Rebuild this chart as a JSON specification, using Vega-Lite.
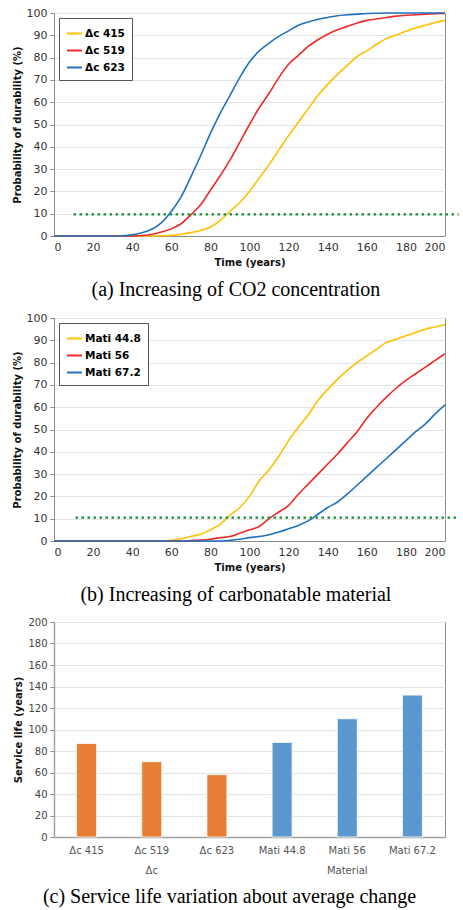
{
  "$schema": "https://vega.github.io/schema/vega-lite/v6.json",
  "background": "white",
  "padding": {"top": 6, "left": 11, "right": 4, "bottom": 4},
  "spacing": 10,
  "resolve": {"scale": {"color": "independent"}, "legend": {"color": "independent"}},
  "config": {
    "font": "DejaVu Sans",
    "view": {"stroke": "#8c8c8c", "strokeWidth": 1},
    "axis": {
      "labelFont": "DejaVu Sans", "labelFontSize": 11, "labelColor": "#333333", "labelOverlap": false,
      "titleFont": "DejaVu Sans", "titleFontWeight": "bold", "titleFontSize": 10, "titleColor": "#111111",
      "domainColor": "#8c8c8c", "tickColor": "#8c8c8c", "gridColor": "#e4e4e4", "tickSize": 4, "labelPadding": 3
    },
    "legend": {
      "orient": "top-left", "offset": 5, "padding": 7, "strokeColor": "#555555", "fillColor": "white",
      "symbolType": "stroke", "symbolSize": 225, "symbolStrokeWidth": 2, "labelFont": "DejaVu Sans",
      "labelFontWeight": "bold", "labelFontSize": 10.5, "labelColor": "#000000", "rowPadding": 3, "labelOffset": 2
    },
    "title": {"font": "Liberation Serif", "fontSize": 20, "fontWeight": "normal", "orient": "bottom", "anchor": "middle", "frame": "bounds", "color": "#000000", "offset": 13}
  },
  "datasets": {
    "curvesA": [
      {"series": "Δc 415", "t": 0, "p": 0}, {"series": "Δc 415", "t": 50, "p": 0}, {"series": "Δc 415", "t": 55, "p": 0.1}, {"series": "Δc 415", "t": 60, "p": 0.3}, {"series": "Δc 415", "t": 65, "p": 0.8}, {"series": "Δc 415", "t": 70, "p": 1.5}, {"series": "Δc 415", "t": 75, "p": 2.5}, {"series": "Δc 415", "t": 80, "p": 4}, {"series": "Δc 415", "t": 85, "p": 7}, {"series": "Δc 415", "t": 90, "p": 11}, {"series": "Δc 415", "t": 95, "p": 15}, {"series": "Δc 415", "t": 100, "p": 20}, {"series": "Δc 415", "t": 105, "p": 26}, {"series": "Δc 415", "t": 110, "p": 32}, {"series": "Δc 415", "t": 115, "p": 38.5}, {"series": "Δc 415", "t": 120, "p": 45}, {"series": "Δc 415", "t": 125, "p": 51}, {"series": "Δc 415", "t": 130, "p": 57}, {"series": "Δc 415", "t": 135, "p": 63}, {"series": "Δc 415", "t": 140, "p": 68}, {"series": "Δc 415", "t": 145, "p": 72.5}, {"series": "Δc 415", "t": 150, "p": 76.5}, {"series": "Δc 415", "t": 155, "p": 80.5}, {"series": "Δc 415", "t": 160, "p": 83}, {"series": "Δc 415", "t": 165, "p": 86}, {"series": "Δc 415", "t": 170, "p": 88.5}, {"series": "Δc 415", "t": 175, "p": 90}, {"series": "Δc 415", "t": 180, "p": 91.8}, {"series": "Δc 415", "t": 185, "p": 93.3}, {"series": "Δc 415", "t": 190, "p": 94.5}, {"series": "Δc 415", "t": 195, "p": 95.7}, {"series": "Δc 415", "t": 200, "p": 96.7},
      {"series": "Δc 519", "t": 0, "p": 0}, {"series": "Δc 519", "t": 40, "p": 0}, {"series": "Δc 519", "t": 45, "p": 0.2}, {"series": "Δc 519", "t": 50, "p": 0.7}, {"series": "Δc 519", "t": 55, "p": 1.8}, {"series": "Δc 519", "t": 60, "p": 3.2}, {"series": "Δc 519", "t": 65, "p": 5.5}, {"series": "Δc 519", "t": 70, "p": 9.5}, {"series": "Δc 519", "t": 75, "p": 14}, {"series": "Δc 519", "t": 80, "p": 20.5}, {"series": "Δc 519", "t": 85, "p": 27}, {"series": "Δc 519", "t": 90, "p": 34}, {"series": "Δc 519", "t": 95, "p": 42}, {"series": "Δc 519", "t": 100, "p": 50}, {"series": "Δc 519", "t": 105, "p": 57.5}, {"series": "Δc 519", "t": 110, "p": 64}, {"series": "Δc 519", "t": 115, "p": 71}, {"series": "Δc 519", "t": 120, "p": 77}, {"series": "Δc 519", "t": 125, "p": 81}, {"series": "Δc 519", "t": 130, "p": 85}, {"series": "Δc 519", "t": 135, "p": 88}, {"series": "Δc 519", "t": 140, "p": 90.5}, {"series": "Δc 519", "t": 145, "p": 92.5}, {"series": "Δc 519", "t": 150, "p": 94}, {"series": "Δc 519", "t": 155, "p": 95.5}, {"series": "Δc 519", "t": 160, "p": 96.7}, {"series": "Δc 519", "t": 165, "p": 97.3}, {"series": "Δc 519", "t": 170, "p": 98}, {"series": "Δc 519", "t": 175, "p": 98.6}, {"series": "Δc 519", "t": 180, "p": 99}, {"series": "Δc 519", "t": 185, "p": 99.2}, {"series": "Δc 519", "t": 190, "p": 99.5}, {"series": "Δc 519", "t": 195, "p": 99.7}, {"series": "Δc 519", "t": 200, "p": 99.8},
      {"series": "Δc 623", "t": 0, "p": 0}, {"series": "Δc 623", "t": 32, "p": 0}, {"series": "Δc 623", "t": 35, "p": 0.1}, {"series": "Δc 623", "t": 40, "p": 0.5}, {"series": "Δc 623", "t": 45, "p": 1.5}, {"series": "Δc 623", "t": 50, "p": 3}, {"series": "Δc 623", "t": 55, "p": 6}, {"series": "Δc 623", "t": 60, "p": 11}, {"series": "Δc 623", "t": 65, "p": 17.5}, {"series": "Δc 623", "t": 70, "p": 26.5}, {"series": "Δc 623", "t": 75, "p": 36}, {"series": "Δc 623", "t": 80, "p": 46}, {"series": "Δc 623", "t": 85, "p": 55}, {"series": "Δc 623", "t": 90, "p": 63}, {"series": "Δc 623", "t": 95, "p": 71}, {"series": "Δc 623", "t": 100, "p": 78}, {"series": "Δc 623", "t": 105, "p": 83}, {"series": "Δc 623", "t": 110, "p": 86.5}, {"series": "Δc 623", "t": 115, "p": 89.5}, {"series": "Δc 623", "t": 120, "p": 92}, {"series": "Δc 623", "t": 125, "p": 94.5}, {"series": "Δc 623", "t": 130, "p": 96}, {"series": "Δc 623", "t": 135, "p": 97.2}, {"series": "Δc 623", "t": 140, "p": 98}, {"series": "Δc 623", "t": 145, "p": 98.8}, {"series": "Δc 623", "t": 150, "p": 99.2}, {"series": "Δc 623", "t": 155, "p": 99.5}, {"series": "Δc 623", "t": 160, "p": 99.8}, {"series": "Δc 623", "t": 170, "p": 100}, {"series": "Δc 623", "t": 180, "p": 100}, {"series": "Δc 623", "t": 190, "p": 100}, {"series": "Δc 623", "t": 200, "p": 100}
    ],
    "curvesB": [
      {"series": "Mati 44.8", "t": 0, "p": 0}, {"series": "Mati 44.8", "t": 55, "p": 0}, {"series": "Mati 44.8", "t": 60, "p": 0.3}, {"series": "Mati 44.8", "t": 65, "p": 1}, {"series": "Mati 44.8", "t": 70, "p": 2}, {"series": "Mati 44.8", "t": 75, "p": 3}, {"series": "Mati 44.8", "t": 80, "p": 5}, {"series": "Mati 44.8", "t": 85, "p": 7.5}, {"series": "Mati 44.8", "t": 90, "p": 11.5}, {"series": "Mati 44.8", "t": 95, "p": 15}, {"series": "Mati 44.8", "t": 100, "p": 20}, {"series": "Mati 44.8", "t": 105, "p": 27}, {"series": "Mati 44.8", "t": 110, "p": 32}, {"series": "Mati 44.8", "t": 115, "p": 38}, {"series": "Mati 44.8", "t": 120, "p": 45}, {"series": "Mati 44.8", "t": 125, "p": 51}, {"series": "Mati 44.8", "t": 130, "p": 56.5}, {"series": "Mati 44.8", "t": 135, "p": 63}, {"series": "Mati 44.8", "t": 140, "p": 68}, {"series": "Mati 44.8", "t": 145, "p": 72.5}, {"series": "Mati 44.8", "t": 150, "p": 76.5}, {"series": "Mati 44.8", "t": 155, "p": 80}, {"series": "Mati 44.8", "t": 160, "p": 83}, {"series": "Mati 44.8", "t": 165, "p": 86}, {"series": "Mati 44.8", "t": 170, "p": 89}, {"series": "Mati 44.8", "t": 175, "p": 90.5}, {"series": "Mati 44.8", "t": 180, "p": 92}, {"series": "Mati 44.8", "t": 185, "p": 93.5}, {"series": "Mati 44.8", "t": 190, "p": 95}, {"series": "Mati 44.8", "t": 195, "p": 96}, {"series": "Mati 44.8", "t": 200, "p": 97},
      {"series": "Mati 56", "t": 0, "p": 0}, {"series": "Mati 56", "t": 65, "p": 0}, {"series": "Mati 56", "t": 70, "p": 0.2}, {"series": "Mati 56", "t": 75, "p": 0.4}, {"series": "Mati 56", "t": 80, "p": 0.8}, {"series": "Mati 56", "t": 85, "p": 1.5}, {"series": "Mati 56", "t": 90, "p": 2}, {"series": "Mati 56", "t": 95, "p": 3.5}, {"series": "Mati 56", "t": 100, "p": 5}, {"series": "Mati 56", "t": 105, "p": 6.5}, {"series": "Mati 56", "t": 110, "p": 10}, {"series": "Mati 56", "t": 115, "p": 13}, {"series": "Mati 56", "t": 120, "p": 16}, {"series": "Mati 56", "t": 125, "p": 21}, {"series": "Mati 56", "t": 130, "p": 25.5}, {"series": "Mati 56", "t": 135, "p": 30}, {"series": "Mati 56", "t": 140, "p": 34.5}, {"series": "Mati 56", "t": 145, "p": 39}, {"series": "Mati 56", "t": 150, "p": 44}, {"series": "Mati 56", "t": 155, "p": 49}, {"series": "Mati 56", "t": 160, "p": 55}, {"series": "Mati 56", "t": 165, "p": 60}, {"series": "Mati 56", "t": 170, "p": 64.5}, {"series": "Mati 56", "t": 175, "p": 68.5}, {"series": "Mati 56", "t": 180, "p": 72}, {"series": "Mati 56", "t": 185, "p": 75}, {"series": "Mati 56", "t": 190, "p": 78}, {"series": "Mati 56", "t": 195, "p": 81}, {"series": "Mati 56", "t": 200, "p": 84},
      {"series": "Mati 67.2", "t": 0, "p": 0}, {"series": "Mati 67.2", "t": 85, "p": 0}, {"series": "Mati 67.2", "t": 90, "p": 0.3}, {"series": "Mati 67.2", "t": 95, "p": 0.8}, {"series": "Mati 67.2", "t": 100, "p": 1.5}, {"series": "Mati 67.2", "t": 105, "p": 2}, {"series": "Mati 67.2", "t": 110, "p": 2.8}, {"series": "Mati 67.2", "t": 115, "p": 4}, {"series": "Mati 67.2", "t": 120, "p": 5.5}, {"series": "Mati 67.2", "t": 125, "p": 7}, {"series": "Mati 67.2", "t": 130, "p": 9}, {"series": "Mati 67.2", "t": 135, "p": 12}, {"series": "Mati 67.2", "t": 140, "p": 15}, {"series": "Mati 67.2", "t": 145, "p": 17.5}, {"series": "Mati 67.2", "t": 150, "p": 21}, {"series": "Mati 67.2", "t": 155, "p": 25}, {"series": "Mati 67.2", "t": 160, "p": 29}, {"series": "Mati 67.2", "t": 165, "p": 33}, {"series": "Mati 67.2", "t": 170, "p": 37}, {"series": "Mati 67.2", "t": 175, "p": 41}, {"series": "Mati 67.2", "t": 180, "p": 45}, {"series": "Mati 67.2", "t": 185, "p": 49}, {"series": "Mati 67.2", "t": 190, "p": 52.5}, {"series": "Mati 67.2", "t": 195, "p": 57}, {"series": "Mati 67.2", "t": 200, "p": 61}
    ],
    "refA": [{"x1": 10, "x2": 207, "y": 9.7}],
    "refB": [{"x1": 11, "x2": 207, "y": 10.5}],
    "bars": [
      {"label": "Δc 415", "group": "Δc", "life": 87},
      {"label": "Δc 519", "group": "Δc", "life": 70},
      {"label": "Δc 623", "group": "Δc", "life": 58},
      {"label": "Mati 44.8", "group": "Material", "life": 88},
      {"label": "Mati 56", "group": "Material", "life": 110},
      {"label": "Mati 67.2", "group": "Material", "life": 132}
    ]
  },
  "vconcat": [
    {
      "width": 391, "height": 223,
      "title": {"text": "(a) Increasing of CO2 concentration"},
      "layer": [
        {
          "data": {"name": "curvesA"},
          "mark": {"type": "line", "strokeWidth": 1.6, "interpolate": "monotone"},
          "encoding": {
            "x": {"field": "t", "type": "quantitative", "scale": {"domain": [0, 200]}, "axis": {"values": [0, 20, 40, 60, 80, 100, 120, 140, 160, 180, 200], "title": "Time (years)", "grid": false, "ticks": false, "labelPadding": 5, "titlePadding": 5}},
            "y": {"field": "p", "type": "quantitative", "scale": {"domain": [0, 100]}, "axis": {"values": [0, 10, 20, 30, 40, 50, 60, 70, 80, 90, 100], "title": "Probability of durability (%)", "grid": true}},
            "color": {"field": "series", "type": "nominal", "scale": {"domain": ["Δc 415", "Δc 519", "Δc 623"], "range": ["#FFC000", "#EE2A2A", "#1F72C0"]}, "legend": {"title": null}}
          }
        },
        {
          "data": {"name": "refA"},
          "mark": {"type": "rule", "strokeDash": [2.5, 3.5], "strokeWidth": 2.2, "color": "#1E8A3C"},
          "encoding": {
            "x": {"field": "x1", "type": "quantitative", "axis": {"values": [0, 20, 40, 60, 80, 100, 120, 140, 160, 180, 200], "title": "Time (years)", "grid": false, "ticks": false, "labelPadding": 5, "titlePadding": 5}},
            "x2": {"field": "x2"},
            "y": {"field": "y", "type": "quantitative", "axis": {"values": [0, 10, 20, 30, 40, 50, 60, 70, 80, 90, 100], "title": "Probability of durability (%)", "grid": true}}
          }
        }
      ]
    },
    {
      "width": 391, "height": 223,
      "title": {"text": "(b) Increasing of carbonatable material"},
      "layer": [
        {
          "data": {"name": "curvesB"},
          "mark": {"type": "line", "strokeWidth": 1.6, "interpolate": "monotone"},
          "encoding": {
            "x": {"field": "t", "type": "quantitative", "scale": {"domain": [0, 200]}, "axis": {"values": [0, 20, 40, 60, 80, 100, 120, 140, 160, 180, 200], "title": "Time (years)", "grid": false, "ticks": false, "labelPadding": 5, "titlePadding": 5}},
            "y": {"field": "p", "type": "quantitative", "scale": {"domain": [0, 100]}, "axis": {"values": [0, 10, 20, 30, 40, 50, 60, 70, 80, 90, 100], "title": "Probability of durability (%)", "grid": true}},
            "color": {"field": "series", "type": "nominal", "scale": {"domain": ["Mati 44.8", "Mati 56", "Mati 67.2"], "range": ["#FFC000", "#EE2A2A", "#1F72C0"]}, "legend": {"title": null}}
          }
        },
        {
          "data": {"name": "refB"},
          "mark": {"type": "rule", "strokeDash": [2.5, 3.5], "strokeWidth": 2.2, "color": "#1E8A3C"},
          "encoding": {
            "x": {"field": "x1", "type": "quantitative", "axis": {"values": [0, 20, 40, 60, 80, 100, 120, 140, 160, 180, 200], "title": "Time (years)", "grid": false, "ticks": false, "labelPadding": 5, "titlePadding": 5}},
            "x2": {"field": "x2"},
            "y": {"field": "y", "type": "quantitative", "axis": {"values": [0, 10, 20, 30, 40, 50, 60, 70, 80, 90, 100], "title": "Probability of durability (%)", "grid": true}}
          }
        }
      ]
    },
    {
      "width": 391, "height": 215,
      "title": {"text": "(c) Service life variation about average change", "offset": 12},
      "data": {"name": "bars"},
      "mark": {"type": "bar", "width": 20, "stroke": "white", "strokeWidth": 0.8},
      "encoding": {
        "x": {"field": "label", "type": "nominal", "sort": null, "scale": {"paddingInner": 0, "paddingOuter": 0},
          "axis": {"title": null, "labelAngle": 0, "ticks": false, "labelFontSize": 10, "labelColor": "#555555", "labelPadding": 8, "labelLineHeight": 20, "domainWidth": 1.5, "domainColor": "#a0a0a0",
            "labelExpr": "datum.value == 'Δc 519' ? ['Δc 519', 'Δc'] : datum.value == 'Mati 56' ? ['Mati 56', 'Material'] : datum.value"}},
        "y": {"field": "life", "type": "quantitative", "scale": {"domain": [0, 200]},
          "axis": {"values": [0, 20, 40, 60, 80, 100, 120, 140, 160, 180, 200], "title": "Service life (years)", "grid": true, "labelFontSize": 10, "labelColor": "#444444", "domainWidth": 1.5, "domainColor": "#a0a0a0"}},
        "color": {"field": "group", "type": "nominal", "scale": {"domain": ["Δc", "Material"], "range": ["#E87D34", "#5B97CF"]}, "legend": null}
      }
    }
  ]
}
